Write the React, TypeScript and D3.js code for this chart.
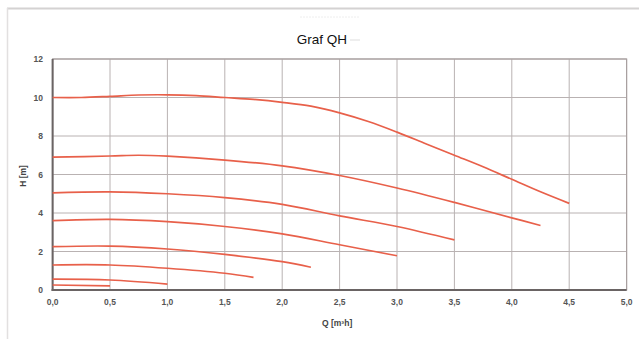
import React from "react";
import * as d3 from "d3";

const title = "Graf QH";
const xTicks = [0, 0.5, 1, 1.5, 2, 2.5, 3, 3.5, 4, 4.5, 5];
const yTicks = [0, 2, 4, 6, 8, 10, 12];
const xLabel = "Q [m³h]";
const yLabel = "H [m]";

const curve1: [number, number][] = [[0, 10.0], [0.25, 10.0], [0.5, 10.06], [0.75, 10.13], [1.0, 10.14], [1.25, 10.1], [1.5, 10.0], [1.75, 9.9], [2.0, 9.75], [2.25, 9.55], [2.5, 9.2], [2.75, 8.75], [3.0, 8.2], [3.25, 7.6], [3.5, 7.0], [3.75, 6.4], [4.0, 5.75], [4.25, 5.1], [4.5, 4.5]];
const curve2: [number, number][] = [[0, 6.9], [0.5, 6.96], [0.75, 7.0], [1.0, 6.95], [1.5, 6.75], [2.0, 6.45], [2.5, 5.95], [3.0, 5.3], [3.5, 4.55], [4.0, 3.75], [4.25, 3.35]];
const curve3: [number, number][] = [[0, 5.05], [0.5, 5.1], [1.0, 5.0], [1.5, 4.8], [2.0, 4.45], [2.5, 3.85], [3.0, 3.3], [3.5, 2.6]];
const curve4: [number, number][] = [[0, 3.6], [0.5, 3.67], [1.0, 3.55], [1.5, 3.3], [2.0, 2.92], [2.5, 2.35], [3.0, 1.78]];
const curve5: [number, number][] = [[0, 2.25], [0.5, 2.28], [1.0, 2.13], [1.5, 1.85], [2.0, 1.47], [2.25, 1.18]];
const curve6: [number, number][] = [[0, 1.3], [0.5, 1.3], [1.0, 1.13], [1.5, 0.87], [1.75, 0.66]];
const curve7: [number, number][] = [[0, 0.56], [0.5, 0.52], [1.0, 0.31]];
const curve8: [number, number][] = [[0, 0.26], [0.5, 0.21]];
const curves = [curve1, curve2, curve3, curve4, curve5, curve6, curve7, curve8];

const fmt = (v: number) => v.toFixed(1).replace(".", ",");

export default function App() {
  const W = 639, H = 339;
  const x = d3.scaleLinear().domain([0, 5]).range([52.6, 626.6]);
  const y = d3.scaleLinear().domain([0, 12]).range([290, 59]);
  const line = d3.line<[number, number]>().x(d => x(d[0])).y(d => y(d[1])).curve(d3.curveCatmullRom.alpha(0.5));
  const gridColor = "#b9b2b2";
  const tickFont = { fontFamily: "Liberation Sans, Arial, sans-serif", fontSize: 8.5, fontWeight: 700, fill: "#555" } as const;
  return (
    <svg width={W} height={H} style={{ position: "absolute", left: 0, top: 0 }}>
      <rect x={0} y={0} width={W} height={H} fill="#fff" />
      <line x1={7} x2={W} y1={8.5} y2={8.5} stroke="#d4d2d2" strokeWidth={2} />
      <line x1={7.5} x2={7.5} y1={8} y2={H} stroke="#e2e0e0" strokeWidth={1.5} />
      <line x1={300} x2={360} y1={17} y2={17} stroke="#eee" strokeWidth={1} strokeDasharray="2,1" />
      <text x={322} y={44} textAnchor="middle" fontFamily="Liberation Sans, Arial, sans-serif" fontSize={13.5} fill="#111">{title}</text>
      <line x1={350} x2={360} y1={40} y2={40} stroke="#ddd" strokeWidth={1} />
      {xTicks.map(t => (
        <line key={"gx" + t} x1={x(t)} x2={x(t)} y1={y(12)} y2={y(0)} stroke={gridColor} strokeWidth={1} />
      ))}
      {yTicks.map(t => (
        <line key={"gy" + t} x1={x(0)} x2={x(5)} y1={y(t)} y2={y(t)} stroke={gridColor} strokeWidth={1} />
      ))}
      <rect x={x(0)} y={y(12)} width={x(5) - x(0)} height={y(0) - y(12)} fill="none" stroke="#a8a0a0" strokeWidth={1.2} />
      <line x1={x(0)} x2={x(0)} y1={y(12)} y2={y(0) + 1} stroke="#6a6464" strokeWidth={2} />
      <line x1={x(0) - 1} x2={x(5)} y1={y(0)} y2={y(0)} stroke="#6a6464" strokeWidth={2} />
      {curves.map((c, i) => (
        <path key={"c" + i} d={line(c) || ""} fill="none" stroke="#e8604a" strokeWidth={1.7} />
      ))}
      {yTicks.map(t => (
        <text key={"ty" + t} x={43} y={y(t) + 3} textAnchor="end" {...tickFont}>{t}</text>
      ))}
      {xTicks.map(t => (
        <text key={"tx" + t} x={x(t)} y={305} textAnchor="middle" {...tickFont}>{fmt(t)}</text>
      ))}
      <text x={322} y={326} {...tickFont} fill="#444">{xLabel}</text>
      <text transform={`translate(26,176) rotate(-90)`} textAnchor="middle" {...tickFont} fill="#444">{yLabel}</text>
    </svg>
  );
}
